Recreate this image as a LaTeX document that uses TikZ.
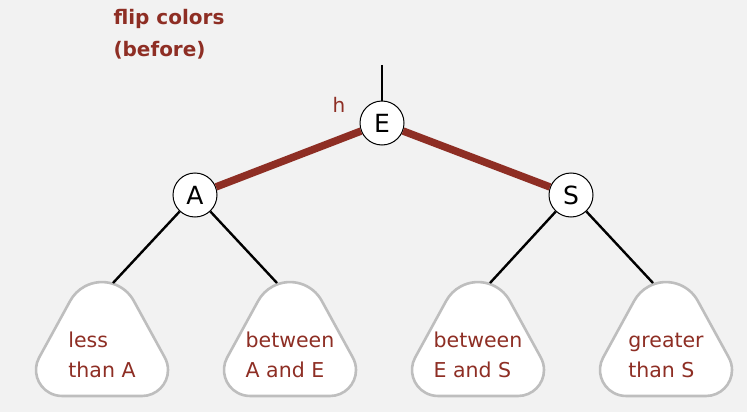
\documentclass[tikz,border=0pt]{standalone}
\usepackage{fontspec}
\setmainfont{DejaVu Sans}
\usepackage{tikz}
\usetikzlibrary{positioning}
\definecolor{bg}{RGB}{242,242,242}
\definecolor{rd}{RGB}{142,46,36}
\definecolor{gy}{RGB}{190,190,190}
\newcommand{\RD}[1]{\textcolor{rd}{#1}}

\tikzset{
  knot/.style={draw,circle,fill=white,line width=1pt,minimum size=44pt,inner sep=0pt,font=\fontsize{25}{25}\selectfont},
  link/.style={line width=2.4pt},
  redlink/.style={line width=7.5pt,draw=rd},
  subtree/.style={draw=gy,fill=white,line width=2.6pt},
  leaftext/.style={align=left,font=\fontsize{20.5}{30}\selectfont}
}

\begin{document}
\begin{tikzpicture}[x=1pt,y=-1pt]
  \fill[bg] (0,0) rectangle (747,412);

  % title
  \node[anchor=base west,font=\bfseries\fontsize{20}{20}\selectfont] (title) at (110,25) {\RD{flip colors}};
  \node[anchor=base west,font=\bfseries\fontsize{20}{20}\selectfont] (title2) at (110,57) {\RD{(before)}};

  % subtrees
  \foreach \cx in {102,290,478,666}
    \draw[subtree] (\cx,396) -- (\cx+40,396)
      arc[start angle=90, end angle=-28.4, radius=26] -- (\cx+31.9,301.1)
      arc[start angle=-28.4, end angle=-151.6, radius=36.3] -- (\cx-62.9,357.6)
      arc[start angle=208.4, end angle=90, radius=26] -- cycle;
  \node[leaftext] (lessA) at (102,355) {\RD{less}\\\RD{than A}};
  \node[leaftext] (betwAE) at (290,355) {\RD{between}\\\RD{A and E}};
  \node[leaftext] (betwES) at (478,355) {\RD{between}\\\RD{E and S}};
  \node[leaftext] (grtS) at (666,355) {\RD{greater}\\\RD{than S}};
  \coordinate (ta) at (113,283);
  \coordinate (tb) at (277,283);
  \coordinate (tc) at (490,283);
  \coordinate (td) at (653,283);

  % nodes
  \node[knot] (E) at (382,123) {E};
  \node[knot] (A) at (195,195) {A};
  \node[knot] (S) at (571,195) {S};
  \coordinate (up) at (382,65);
  \node[anchor=base,font=\fontsize{20}{20}\selectfont] (h) at (339,112) {\RD{h}};

  % links
  \draw[link] (up) -- (E);
  \draw[redlink] (E) -- (A);
  \draw[redlink] (E) -- (S);
  \draw[link] (A) -- (ta);
  \draw[link] (A) -- (tb);
  \draw[link] (S) -- (tc);
  \draw[link] (S) -- (td);
\end{tikzpicture}
\end{document}
